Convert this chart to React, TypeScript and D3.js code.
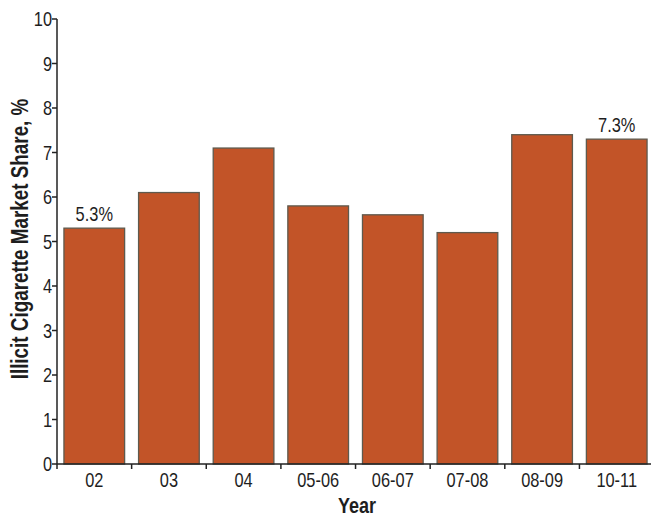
import React from "react";
import * as d3 from "d3";

const categories = ["02", "03", "04", "05-06", "06-07", "07-08", "08-09", "10-11"];
const values = [5.3, 6.1, 7.1, 5.8, 5.6, 5.2, 7.4, 7.3];
const yTicks = [0, 1, 2, 3, 4, 5, 6, 7, 8, 9, 10];
const annotated = [0, 7];

const W = 651, H = 517;
const left = 57, right = 654, top = 19, bottom = 464;
const font = "'Liberation Sans', Arial, sans-serif";
const SX = 0.82;

function T({ x, y, anchor = "middle", size = 20, weight = "normal", rotate = 0, children }: any) {
  return (
    <text transform={`translate(${x},${y}) rotate(${rotate}) scale(${SX},1)`} textAnchor={anchor}
      fontSize={size} fontWeight={weight} fill="#1e1e1e">{children}</text>
  );
}

export default function App() {
  const x = d3.scaleBand().domain(categories).range([left, right]).paddingInner(0.187).paddingOuter(0.093);
  const y = d3.scaleLinear().domain([0, 10]).range([bottom, top]);
  const step = x.step();
  const boundaries = d3.range(categories.length + 1).map((i) => left + i * step);
  return (
    <svg width={W} height={H} style={{ position: "absolute", left: 0, top: 0 }} fontFamily={font}>
      {categories.map((c, i) => (
        <rect key={c} x={x(c)} y={y(values[i])} width={x.bandwidth()} height={bottom - y(values[i])}
          fill="#C25428" stroke="#5e5a4e" strokeWidth={1.3} />
      ))}
      {annotated.map((i) => (
        <T key={i} x={x(categories[i])! + x.bandwidth() / 2} y={y(values[i]) - 7}>{values[i].toFixed(1)}%</T>
      ))}
      <line x1={left} x2={left} y1={top} y2={bottom} stroke="#222" strokeWidth={1.5} />
      <line x1={left} x2={W} y1={bottom} y2={bottom} stroke="#222" strokeWidth={1.5} />
      {yTicks.map((t) => (
        <g key={t}>
          <line x1={left - 5} x2={left} y1={y(t)} y2={y(t)} stroke="#222" strokeWidth={1.5} />
          <T x={left - 5} y={y(t) + 7} anchor="end">{t}</T>
        </g>
      ))}
      {boundaries.map((b, i) => (
        <line key={i} x1={b} x2={b} y1={bottom} y2={bottom + 5} stroke="#222" strokeWidth={1.5} />
      ))}
      {categories.map((c) => (
        <T key={c} x={x(c)! + x.bandwidth() / 2} y={487}>{c}</T>
      ))}
      <T x={357} y={513} size={22} weight="bold">Year</T>
      <T x={28} y={239} size={23} weight="bold" rotate={-90}>Illicit Cigarette Market Share, %</T>
    </svg>
  );
}
